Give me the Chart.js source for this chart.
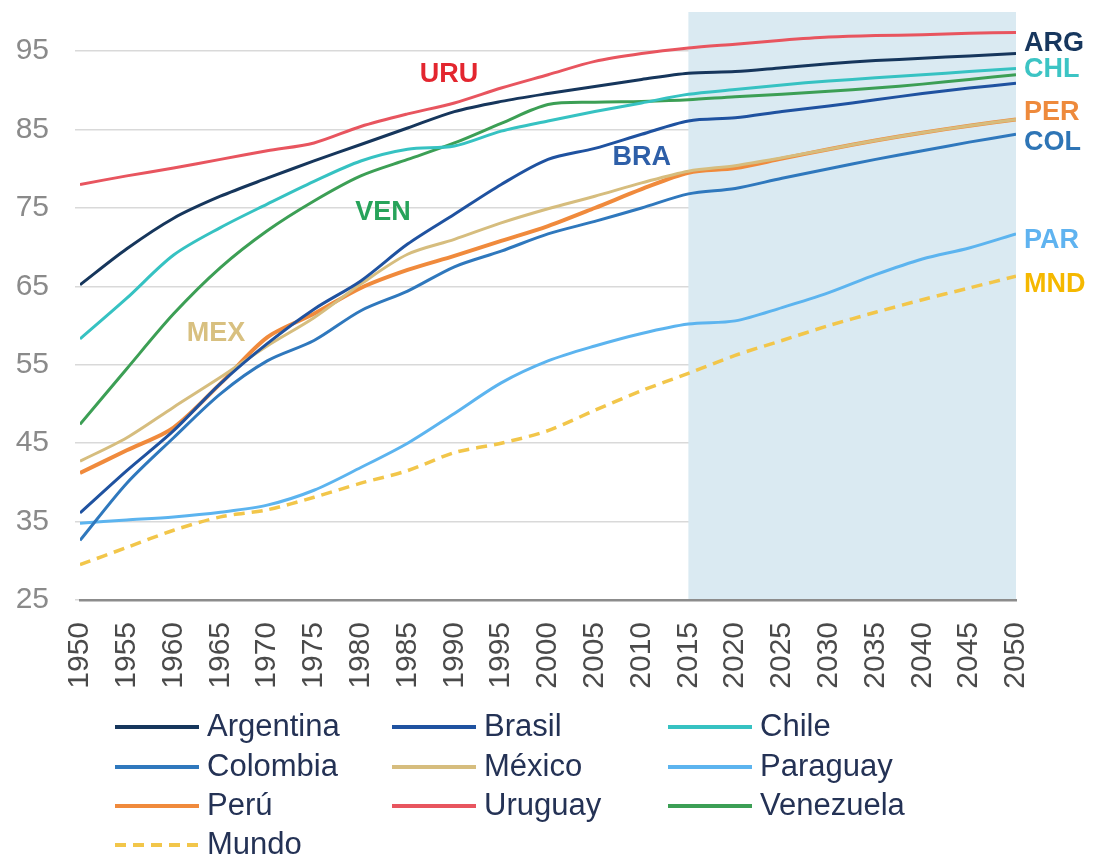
<!DOCTYPE html>
<html>
<head>
<meta charset="utf-8">
<script src="https://cdn.jsdelivr.net/npm/chart.js@4.4.1/dist/chart.umd.min.js"></script>
<style>
  html, body { margin: 0; padding: 0; background: #fff; }
  #wrap { width: 1094px; height: 858px; position: relative; }
</style>
</head>
<body>
<div id="wrap"><canvas id="chart" width="1094" height="858"></canvas></div>
<script>
// años (cada 5 años) y valores
const years = [1950, 1955, 1960, 1965, 1970, 1975, 1980, 1985, 1990, 1995, 2000, 2005, 2010, 2015, 2020, 2025, 2030, 2035, 2040, 2045, 2050];

const argentina = [65.2, 69.8, 73.7, 76.5, 78.8, 81.0, 83.1, 85.2, 87.3, 88.6, 89.6, 90.5, 91.4, 92.2, 92.4, 92.9, 93.4, 93.8, 94.1, 94.4, 94.7];
const brasil    = [36.1, 41.5, 46.6, 52.6, 57.7, 62.1, 65.7, 70.4, 74.2, 78.0, 81.2, 82.6, 84.4, 86.1, 86.5, 87.3, 88.0, 88.8, 89.6, 90.3, 90.9];
const chile     = [58.3, 63.5, 69.0, 72.5, 75.5, 78.4, 81.0, 82.5, 82.9, 84.8, 86.1, 87.3, 88.4, 89.5, 90.1, 90.7, 91.2, 91.6, 92.0, 92.4, 92.8];
const colombia  = [32.6, 39.9, 45.7, 51.3, 55.5, 58.1, 61.9, 64.4, 67.5, 69.5, 71.7, 73.3, 75.0, 76.8, 77.5, 78.8, 80.0, 81.2, 82.3, 83.4, 84.4];
const mexico    = [42.7, 45.7, 49.6, 53.4, 57.4, 61.0, 65.3, 69.1, 71.0, 73.1, 74.9, 76.5, 78.2, 79.7, 80.4, 81.4, 82.5, 83.6, 84.6, 85.5, 86.3];
const paraguay  = [34.8, 35.2, 35.6, 36.2, 37.1, 39.0, 41.9, 45.0, 48.8, 52.7, 55.5, 57.4, 59.0, 60.2, 60.6, 62.3, 64.2, 66.5, 68.5, 69.9, 71.7];
const peru      = [41.2, 44.1, 47.0, 52.6, 58.5, 61.5, 64.8, 67.1, 68.9, 70.8, 72.7, 75.0, 77.4, 79.5, 80.1, 81.3, 82.5, 83.6, 84.6, 85.5, 86.3];
const uruguay   = [78.0, 79.1, 80.1, 81.2, 82.3, 83.3, 85.4, 87.0, 88.4, 90.3, 92.0, 93.7, 94.7, 95.4, 95.9, 96.4, 96.8, 97.0, 97.1, 97.3, 97.4];
const venezuela = [47.4, 54.5, 61.5, 67.4, 72.1, 75.9, 79.1, 81.2, 83.3, 85.8, 88.2, 88.5, 88.6, 88.8, 89.2, 89.5, 89.9, 90.3, 90.8, 91.4, 92.0];
const mundo     = [29.5, 31.7, 33.9, 35.6, 36.5, 38.1, 39.9, 41.5, 43.8, 45.0, 46.6, 49.2, 51.7, 53.9, 56.2, 58.1, 60.0, 61.7, 63.3, 64.8, 66.3];

const yTicks = [25, 35, 45, 55, 65, 75, 85, 95];
const projectionStart = 2015;
const projectionEnd = 2050;

const series = [
  { label: "Argentina", data: argentina, color: "#16365c" },
  { label: "Brasil",    data: brasil,    color: "#1f52a0" },
  { label: "Chile",     data: chile,     color: "#36c2c2" },
  { label: "Colombia",  data: colombia,  color: "#2f78bd" },
  { label: "México",    data: mexico,    color: "#d6bd7e" },
  { label: "Paraguay",  data: paraguay,  color: "#5cb4ef" },
  { label: "Perú",      data: peru,      color: "#f08a3c", width: 4 },
  { label: "Uruguay",   data: uruguay,   color: "#e8555f" },
  { label: "Venezuela", data: venezuela, color: "#3c9f55" },
  { label: "Mundo",     data: mundo,     color: "#f2c64a", width: 3.5, dash: [11, 7] }
];

// etiquetas dentro / a la derecha del gráfico (año, valor)
const tags = [
  { text: "ARG", year: 2050, value: 96.0, color: "#17375e", right: true },
  { text: "CHL", year: 2050, value: 92.6, color: "#3cc4c4", right: true },
  { text: "PER", year: 2050, value: 87.2, color: "#ee8a3c", right: true },
  { text: "COL", year: 2050, value: 83.3, color: "#2e75b6", right: true },
  { text: "PAR", year: 2050, value: 70.9, color: "#5fb3f0", right: true },
  { text: "MND", year: 2050, value: 65.3, color: "#f5b800", right: true },
  { text: "URU", year: 1986.3, value: 92.0, color: "#e3262f" },
  { text: "VEN", year: 1979.4, value: 74.4, color: "#27a35a" },
  { text: "BRA", year: 2006.9, value: 81.4, color: "#2e5fa8" },
  { text: "MEX", year: 1961.4, value: 59.0, color: "#d8c080" }
];

const FONT = "'Liberation Sans', Arial, sans-serif";

const shadePlugin = {
  id: "shade",
  beforeDatasetsDraw(chart) {
    const { ctx, chartArea, scales } = chart;
    const x0 = scales.x.getPixelForValue(projectionStart);
    const x1 = scales.x.getPixelForValue(projectionEnd);
    ctx.save();
    ctx.fillStyle = "#daeaf2";
    ctx.fillRect(x0, chartArea.top, x1 - x0, chartArea.bottom - chartArea.top - 1);
    ctx.restore();
  }
};

const tagPlugin = {
  id: "tags",
  afterDatasetsDraw(chart) {
    const { ctx, scales } = chart;
    ctx.save();
    ctx.font = "bold 27px " + FONT;
    ctx.textBaseline = "middle";
    ctx.textAlign = "left";
    tags.forEach(t => {
      let x = scales.x.getPixelForValue(t.year);
      if (t.right) x += 8;
      const y = scales.y.getPixelForValue(t.value);
      ctx.fillStyle = t.color;
      ctx.fillText(t.text, x, y);
    });
    ctx.restore();
  }
};

// leyenda en tres columnas, dibujada debajo del eje
const legendPlugin = {
  id: "legend3",
  afterDraw(chart) {
    const { ctx } = chart;
    const colX = [115, 392, 668];
    const rowY = [727, 767, 806, 845];
    ctx.save();
    ctx.font = "31px " + FONT;
    ctx.textBaseline = "middle";
    chart.data.datasets.forEach((ds, i) => {
      const x = colX[i % 3];
      const y = rowY[Math.floor(i / 3)];
      ctx.strokeStyle = ds.borderColor;
      ctx.lineWidth = 4;
      ctx.setLineDash(ds.borderDash || []);
      ctx.beginPath();
      ctx.moveTo(x, y);
      ctx.lineTo(x + 84, y);
      ctx.stroke();
      ctx.setLineDash([]);
      ctx.fillStyle = "#243255";
      ctx.fillText(ds.label, x + 92, y);
    });
    ctx.restore();
  }
};

new Chart(document.getElementById("chart"), {
  type: "line",
  data: {
    datasets: series.map(s => ({
      label: s.label,
      data: years.map((yr, i) => ({ x: yr, y: s.data[i] })),
      borderColor: s.color,
      backgroundColor: s.color,
      borderWidth: s.width || 3,
      borderDash: s.dash || [],
      pointRadius: 0,
      tension: 0.3,
      fill: false
    }))
  },
  options: {
    responsive: false,
    animation: false,
    layout: { padding: { top: 12, right: 78, bottom: 150, left: 0 } },
    plugins: { legend: { display: false }, tooltip: { enabled: false } },
    scales: {
      x: {
        type: "linear",
        min: 1950,
        max: 2050,
        grid: { display: false },
        border: { display: true, color: "#8c8c8c", width: 2.5 },
        ticks: {
          stepSize: 5,
          autoSkip: false,
          maxRotation: 90,
          minRotation: 90,
          padding: 14,
          color: "#4a4a4a",
          font: { family: FONT, size: 30 },
          callback: v => String(v)
        },
        afterFit(scale) { scale.height = 108; scale.paddingLeft = 0; scale.paddingRight = 0; }
      },
      y: {
        min: 25,
        max: 100,
        grid: { color: "#d9d9d9", lineWidth: 1.5, tickLength: 5 },
        border: { display: false },
        ticks: {
          color: "#8a8a8a",
          padding: 26,
          font: { family: FONT, size: 30 }
        },
        afterBuildTicks(scale) { scale.ticks = yTicks.map(v => ({ value: v })); },
        afterFit(scale) { scale.width = 80; scale.paddingTop = 0; scale.paddingBottom = 0; }
      }
    }
  },
  plugins: [shadePlugin, tagPlugin, legendPlugin]
});
</script>
</body>
</html>
